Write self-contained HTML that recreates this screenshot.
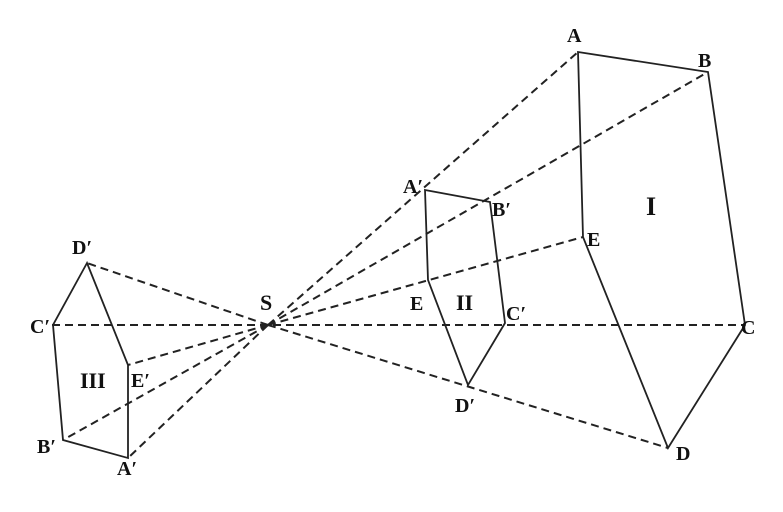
<!DOCTYPE html><html><head><style>body{margin:0;background:#fff}svg{display:block}text{font-family:"Liberation Serif",serif;font-weight:bold;fill:#111}</style></head><body>
<svg width="783" height="512" viewBox="0 0 783 512">
<g stroke="#222" stroke-width="2" fill="none" stroke-dasharray="8,5">
<line x1="268" y1="325" x2="578" y2="52"/>
<line x1="268" y1="325" x2="708" y2="72"/>
<line x1="268" y1="325" x2="583" y2="237"/>
<line x1="52" y1="325" x2="745" y2="325"/>
<line x1="268" y1="325" x2="668" y2="448"/>
<line x1="268" y1="325" x2="87" y2="263"/>
<line x1="268" y1="325" x2="63" y2="440"/>
<line x1="268" y1="325" x2="128" y2="458"/>
<line x1="268" y1="325" x2="128" y2="365"/>
</g>
<g stroke="#222" stroke-width="1.8" fill="none">
<polygon points="578,52 708,72 745,325 668,448 583,237"/>
<polygon points="425,190 490,202 505,323 468,385 428,280"/>
<polygon points="87,263 53,325 63,440 128,458 128,365"/>
</g>
<g font-size="20">
<text x="567" y="42">A</text><text x="698" y="67">B</text><text x="646" y="215" font-size="26">I</text>
<text x="587" y="246">E</text><text x="741" y="334">C</text><text x="676" y="460">D</text>
<text x="403" y="193">A′</text><text x="492" y="216">B′</text><text x="410" y="310">E</text>
<text x="456" y="310" font-size="22">II</text><text x="506" y="320">C′</text><text x="455" y="412">D′</text>
<text x="260" y="310" font-size="22">S</text>
<text x="72" y="254">D′</text><text x="30" y="333">C′</text><text x="80" y="388" font-size="22">III</text>
<text x="131" y="387">E′</text><text x="37" y="453">B′</text><text x="117" y="475">A′</text>
</g>
</svg></body></html>
